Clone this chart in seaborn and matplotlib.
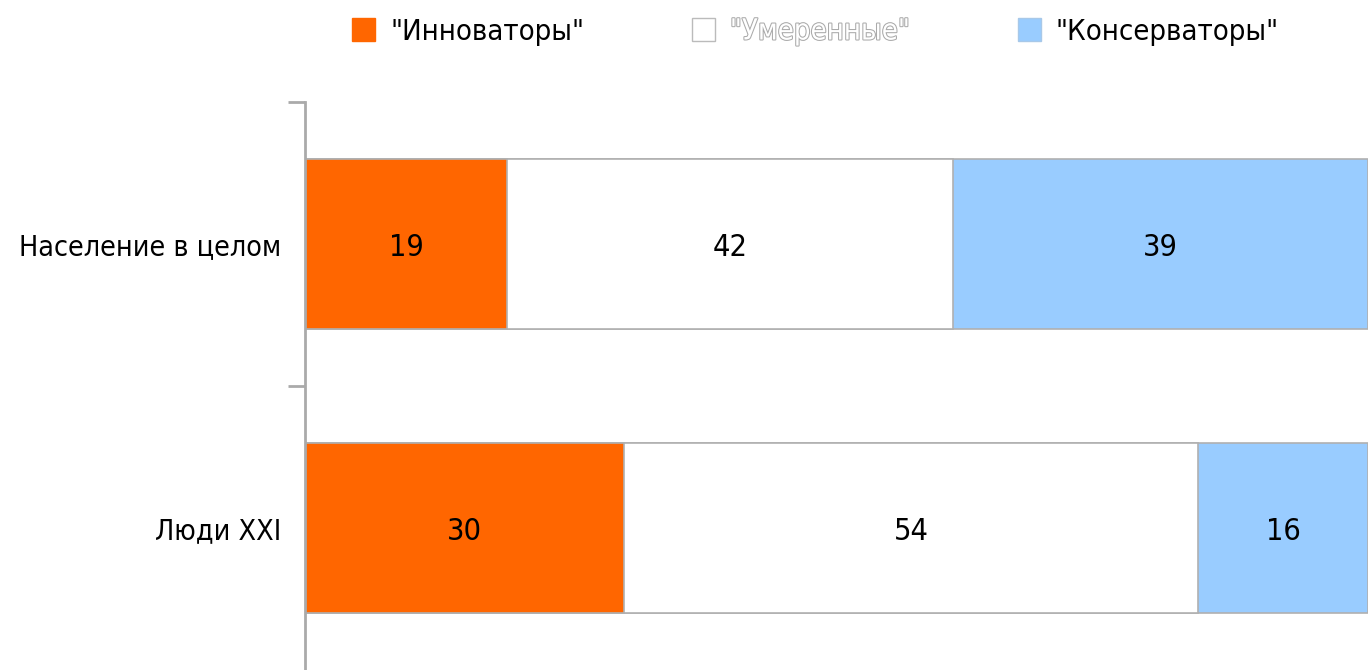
import matplotlib
matplotlib.use("Agg")
import matplotlib.pyplot as plt
import matplotlib.patheffects as pe
from matplotlib.patches import Patch
import seaborn as sns
import pandas as pd

groups = ["Население в целом", "Люди XXI"]
series = ['"Инноваторы"', '"Умеренные"', '"Консерваторы"']
innovators = [19, 30]
moderate = [42, 54]
conservative = [39, 16]
colors = ["#FF6600", "#FFFFFF", "#99CCFF"]

sns.set_style("white")
plt.rcParams["font.family"] = ["DejaVu Sans"]
plt.rcParams["font.stretch"] = "condensed"
plt.rcParams["text.color"] = "black"
plt.rcParams["ytick.labelcolor"] = "black"

df = pd.DataFrame({"group": groups, "inn": innovators, "mod": moderate, "con": conservative})
df["c1"] = df["inn"]
df["c2"] = df["inn"] + df["mod"]
df["c3"] = df["c2"] + df["con"]

fig = plt.figure(figsize=(13.68, 6.7), dpi=100)
ax = fig.add_axes([305 / 1368, 0, 1 - 305 / 1368, 568 / 670])

# stacked bars: draw cumulative totals, largest first
for col, color in zip(["c3", "c2", "c1"], colors[::-1]):
    sns.barplot(data=df, y="group", x=col, color=color, orient="h", width=0.6,
                edgecolor="#B0B0B0", linewidth=1.2, ax=ax, saturation=1)

for i, row in df.iterrows():
    starts = [0, row["c1"], row["c2"]]
    for s, v in zip(starts, [row["inn"], row["mod"], row["con"]]):
        ax.text(s + v / 2, i, str(v), ha="center", va="center_baseline",
                fontsize=22, color="black")

ax.set_xlim(0, 100)
ax.set_ylim(1.5, -0.5)
ax.set_xlabel("")
ax.set_ylabel("")
ax.set_xticks([])
sns.despine(ax=ax, top=True, right=True, bottom=True)
ax.spines["left"].set_color("#AAAAAA")
ax.spines["left"].set_linewidth(2)
ax.set_yticks([-0.5, 0.5], minor=True)
ax.tick_params(axis="y", which="minor", length=12, width=2, color="#AAAAAA", left=True)
ax.tick_params(axis="y", which="major", length=0, pad=17, labelsize=20.5, labelcolor="black")

handles = [Patch(facecolor=colors[0], edgecolor=colors[0]),
           Patch(facecolor=colors[1], edgecolor="#BBBBBB"),
           Patch(facecolor=colors[2], edgecolor="#A8C8E8")]
leg = fig.legend(handles, series, loc="upper center", bbox_to_anchor=(0.596, 1.0), ncol=3,
                 frameon=False, fontsize=21, handlelength=0.8, handleheight=0.8,
                 handletextpad=0.5, columnspacing=3.7, borderaxespad=0.2)
texts = leg.get_texts()
texts[0].set_color("black")
texts[2].set_color("black")
texts[1].set_color("white")
texts[1].set_path_effects([pe.withStroke(linewidth=1.5, foreground="#AAAAAA")])

fig.savefig("out.png", dpi=100)
